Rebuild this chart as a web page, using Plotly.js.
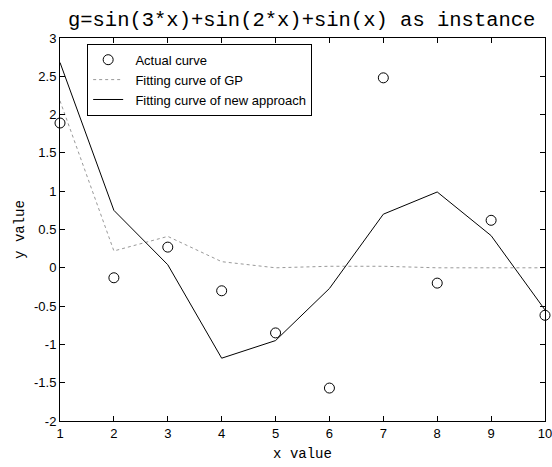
<!DOCTYPE html>
<html>
<head>
<meta charset="utf-8">
<script src="https://cdn.plot.ly/plotly-3.0.1.min.js"></script>
<style>html,body{margin:0;padding:0;background:#fff;}#chart{width:552px;height:467px;}</style>
</head>
<body>
<div id="chart"></div>
<script>
const xValues = [1, 2, 3, 4, 5, 6, 7, 8, 9, 10];
const actualCurve = [1.89, -0.13, 0.27, -0.30, -0.85, -1.57, 2.48, -0.20, 0.62, -0.62];
const gpCurve = [2.18, 0.22, 0.41, 0.08, 0.0, 0.02, 0.02, 0.0, 0.0, 0.0];
const newApproachCurve = [2.68, 0.75, 0.04, -1.18, -0.95, -0.27, 0.70, 0.99, 0.42, -0.55];
const xTicks = [1, 2, 3, 4, 5, 6, 7, 8, 9, 10];
const yTicks = [-2, -1.5, -1, -0.5, 0, 0.5, 1, 1.5, 2, 2.5, 3];
const seriesNames = ['Actual curve', 'Fitting curve of GP', 'Fitting curve of new approach'];

const pad = '\u00a0\u00a0';
const traces = [
  {x: xValues, y: actualCurve, name: pad + seriesNames[0], mode: 'markers', type: 'scatter',
   cliponaxis: false,
   marker: {symbol: 'circle-open', size: 10, color: '#000', line: {width: 1, color: '#000'}}},
  {x: xValues, y: gpCurve, name: pad + seriesNames[1], mode: 'lines', type: 'scatter',
   line: {color: '#999', width: 1, dash: 'dot'}},
  {x: xValues, y: newApproachCurve, name: pad + seriesNames[2], mode: 'lines', type: 'scatter',
   line: {color: '#000', width: 1}}
];

const axisCommon = {
  showgrid: false, zeroline: false, showline: true, linecolor: '#000', linewidth: 1,
  mirror: 'ticks', ticks: 'inside', ticklen: 5, tickcolor: '#000',
  ticklabeloverflow: 'allow',
  tickfont: {family: 'Liberation Sans, Arial, sans-serif', size: 13, color: '#000'}
};

const layout = {
  width: 552, height: 467,
  margin: {l: 60, r: 7, t: 38, b: 46},
  paper_bgcolor: '#fff', plot_bgcolor: '#fff',
  title: {text: 'g=sin(3*x)+sin(2*x)+sin(x) as instance',
          font: {family: 'Liberation Mono, monospace', size: 20.5, color: '#000'},
          x: 0.5465, xanchor: 'center', y: 0.975, yanchor: 'top'},
  xaxis: Object.assign({}, axisCommon, {
    range: [1, 10], tickvals: xTicks, ticktext: xTicks.map(String),
    title: {text: 'x value', font: {family: 'Liberation Mono, monospace', size: 14, color: '#000'}, standoff: 8}
  }),
  yaxis: Object.assign({}, axisCommon, {
    range: [-2, 3], tickvals: yTicks, ticktext: yTicks.map(String),
    title: {text: 'y value', font: {family: 'Liberation Mono, monospace', size: 14, color: '#000'}, standoff: 6}
  }),
  legend: {x: 0.056, y: 0.985, xanchor: 'left', yanchor: 'top',
           bgcolor: '#fff', bordercolor: '#000', borderwidth: 1,
           font: {family: 'Liberation Sans, Arial, sans-serif', size: 13, color: '#000'},
           tracegroupgap: 0, itemwidth: 30},
  showlegend: true
};

Plotly.newPlot('chart', traces, layout, {displayModeBar: false, staticPlot: true});
</script>
</body>
</html>
